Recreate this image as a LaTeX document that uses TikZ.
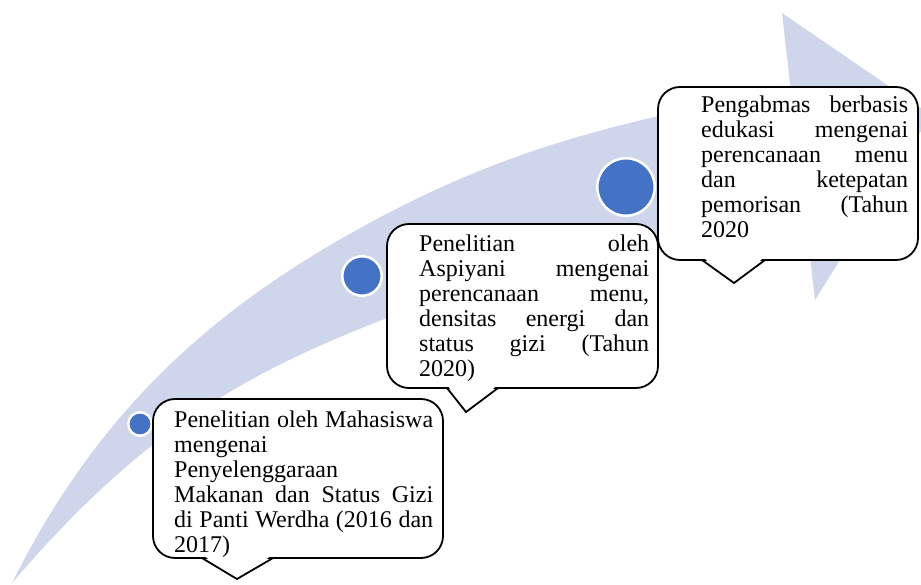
\documentclass[tikz,border=0pt]{standalone}
\usepackage{fontspec}
\setmainfont{Liberation Serif}
\definecolor{bandcol}{HTML}{CFD5EA}
\definecolor{dotblue}{HTML}{4472C4}
\newcommand\jline[2]{\leavevmode\hbox to #1{#2}}
\begin{document}
\begin{tikzpicture}[x=1pt,y=-1pt,
  roundbox/.style={draw=black, line width=1.8pt, fill=white, rounded corners=22pt, inner sep=0pt},
  pointerfill/.style={fill=white},
  pointerline/.style={draw=black, line width=1.8pt, line cap=round, line join=miter},
  dot/.style={circle, fill=dotblue, draw=white, line width=2.5pt, inner sep=0pt},
  txt/.style={inner sep=0pt, anchor=base west, align=left, font=\fontsize{24}{25}\selectfont}]
\useasboundingbox (0,0) rectangle (921,585);

% curved arrow band
\begin{scope}
\clip (0,0) rectangle (921,585);
\fill[bandcol] (12,583) .. controls (101.4,404.2) and (221.6,297.8) .. (400,207)
  .. controls (533.8,139.3) and (643.6,118) .. (790.6,88)
  -- (782,13) -- (931,115) -- (815,300) -- (803.5,200)
  .. controls (663.8,234.6) and (521.2,266) .. (387,318)
  .. controls (244.4,373.2) and (142,431) .. (12,583) -- cycle;
\end{scope}

% milestone dots
\node[dot, minimum size=23.5pt] (c1) at (140,424) {};
\node[dot, minimum size=39.5pt] (c2) at (362,276) {};
\node[dot, minimum size=57.5pt] (c3) at (626,187) {};

% callout 3
\node[roundbox, minimum width=260pt, minimum height=173pt] (b3) at (788,173.5) {};
\coordinate (p3L) at (702,260); \coordinate (p3T) at (734,283); \coordinate (p3R) at (765,260);
\fill[pointerfill] (702,256.5) -- (p3T) -- (765,256.5) -- cycle;
\draw[pointerline] (p3L) -- (p3T) -- (p3R);
\node[txt, text width=207pt] (t3) at (701,113) {\jline{207pt}{Pengabmas\hfill berbasis}\\
\jline{207pt}{edukasi\hfill mengenai}\\
\jline{207pt}{perencanaan\hfill menu}\\
\jline{207pt}{dan\hfill ketepatan}\\
\jline{207pt}{pemorisan\hfill (Tahun}\\
2020};

% callout 2
\node[roundbox, minimum width=271pt, minimum height=164pt] (b2) at (522.5,306) {};
\coordinate (p2L) at (447,388); \coordinate (p2T) at (466,412); \coordinate (p2R) at (498,388);
\fill[pointerfill] (447,384.5) -- (p2T) -- (498,384.5) -- cycle;
\draw[pointerline] (p2L) -- (p2T) -- (p2R);
\node[txt, text width=230pt] (t2) at (419,252) {\jline{230pt}{Penelitian\hfill oleh}\\
\jline{230pt}{Aspiyani\hfill mengenai}\\
\jline{230pt}{perencanaan\hfill menu,}\\
\jline{230pt}{densitas\hfill energi\hfill dan}\\
\jline{230pt}{status\hfill gizi\hfill (Tahun}\\
2020)};

% callout 1
\node[roundbox, minimum width=290pt, minimum height=159pt] (b1) at (298,478.5) {};
\coordinate (p1L) at (202,558); \coordinate (p1T) at (237,579); \coordinate (p1R) at (273,558);
\fill[pointerfill] (202,554.5) -- (p1T) -- (273,554.5) -- cycle;
\draw[pointerline] (p1L) -- (p1T) -- (p1R);
\node[txt, text width=259pt] (t1) at (174,427) {\jline{259pt}{Penelitian\hfill oleh\hfill Mahasiswa}\\
mengenai\\
Penyelenggaraan\\
\jline{259pt}{Makanan\hfill dan\hfill Status\hfill Gizi}\\
\jline{259pt}{di\hfill Panti\hfill Werdha\hfill (2016\hfill dan}\\
2017)};
\end{tikzpicture}
\end{document}
